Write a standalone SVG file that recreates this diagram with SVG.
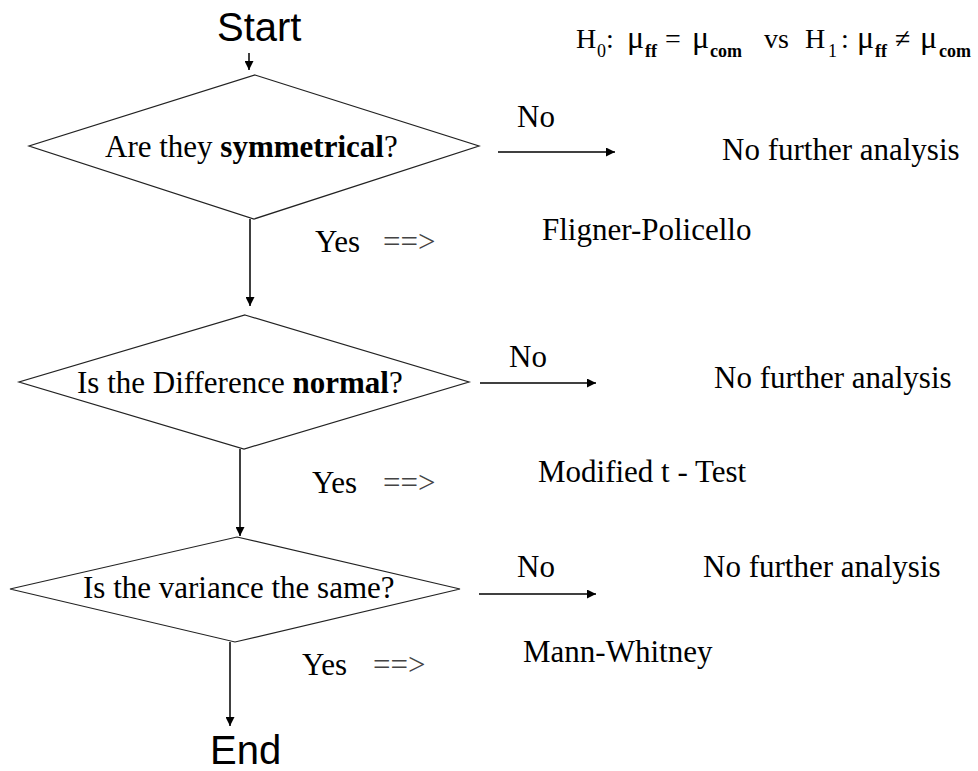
<svg xmlns="http://www.w3.org/2000/svg" width="978" height="771" viewBox="0 0 978 771">
<style>
  .bg{fill:#fff}
  .dia{fill:#fff;stroke:#222;stroke-width:1.2}
  .t{font-family:"Liberation Serif","Times New Roman",serif;font-size:31px;fill:#000}
  .b{font-weight:bold}
  .s{font-family:"Liberation Sans",Arial,sans-serif;font-size:40px;fill:#000}
  .arr{font-family:"Liberation Serif","Times New Roman",serif;font-size:31px;fill:#444}
  .h{font-family:"Liberation Serif","Times New Roman",serif;font-size:28px;fill:#000}
  .mu{font-size:32px}
  .sub{font-size:18px}
  .con{stroke:#000;stroke-width:1.5;fill:none}
</style>
<defs>
  <marker id="ah" viewBox="0 0 10 10" refX="10" refY="5" markerWidth="10" markerHeight="9" markerUnits="userSpaceOnUse" orient="auto">
    <path d="M0,0 L10,5 L0,10 z" fill="#000"/>
  </marker>
</defs>
<rect class="bg" x="0" y="0" width="978" height="771"/>

<g id="start"><text class="s" x="217" y="41">Start</text></g>

<g id="hypothesis">
  <text class="h"><tspan x="576" y="48">H</tspan><tspan class="sub" x="597" y="57">0</tspan><tspan x="606" y="48">:</tspan><tspan class="mu" x="627" y="48">μ</tspan><tspan class="sub b" x="645" y="57">ff</tspan><tspan x="665" y="48">=</tspan><tspan class="mu" x="692" y="48">μ</tspan><tspan class="sub b" x="710" y="57">com</tspan><tspan x="764" y="48">vs</tspan><tspan x="805" y="48">H</tspan><tspan class="sub" x="828" y="57">1</tspan><tspan x="841" y="48">:</tspan><tspan class="mu" x="857" y="48">μ</tspan><tspan class="sub b" x="875" y="57">ff</tspan><tspan x="895" y="48">≠</tspan><tspan class="mu" x="920" y="48">μ</tspan><tspan class="sub b" x="939" y="57">com</tspan></text>
</g>

<g id="d1">
  <polygon class="dia" points="255,75 479,146 254,219 29,146"/>
  <text class="t" x="105" y="157">Are they <tspan class="b">symmetrical</tspan>?</text>
</g>
<g id="d2">
  <polygon class="dia" points="245,315 469,382 244,449 19,382"/>
  <text class="t" x="77" y="393">Is the Difference <tspan class="b">normal</tspan>?</text>
</g>
<g id="d3">
  <polygon class="dia" points="237,537 460,589 235,642 10,589"/>
  <text class="t" x="83" y="598">Is the variance the same?</text>
</g>

<g id="end"><text class="s" x="210" y="764">End</text></g>

<g id="out1">
  <text class="t" x="722" y="160">No further analysis</text>
  <text class="t" x="542" y="240">Fligner-Policello</text>
</g>
<g id="out2">
  <text class="t" x="714" y="388">No further analysis</text>
  <text class="t" x="538" y="482">Modified t - Test</text>
</g>
<g id="out3">
  <text class="t" x="703" y="577">No further analysis</text>
  <text class="t" x="523" y="662">Mann-Whitney</text>
</g>

<g id="connectors">
  <line class="con" x1="249" y1="53" x2="249" y2="70" marker-end="url(#ah)"/>
  <line class="con" x1="250" y1="219" x2="250" y2="306" marker-end="url(#ah)"/>
  <line class="con" x1="240" y1="449" x2="240" y2="536" marker-end="url(#ah)"/>
  <line class="con" x1="230" y1="642" x2="230" y2="726" marker-end="url(#ah)"/>
  <line class="con" x1="498" y1="152" x2="615" y2="152" marker-end="url(#ah)"/>
  <line class="con" x1="480" y1="383" x2="596" y2="383" marker-end="url(#ah)"/>
  <line class="con" x1="479" y1="594" x2="596" y2="594" marker-end="url(#ah)"/>
  <text class="t" x="517" y="127">No</text>
  <text class="t" x="509" y="367">No</text>
  <text class="t" x="517" y="577">No</text>
  <text class="t" x="315" y="252">Yes</text><text class="arr" x="383" y="252">==&gt;</text>
  <text class="t" x="312" y="493">Yes</text><text class="arr" x="383" y="493">==&gt;</text>
  <text class="t" x="302" y="675">Yes</text><text class="arr" x="373" y="675">==&gt;</text>
</g>
</svg>
